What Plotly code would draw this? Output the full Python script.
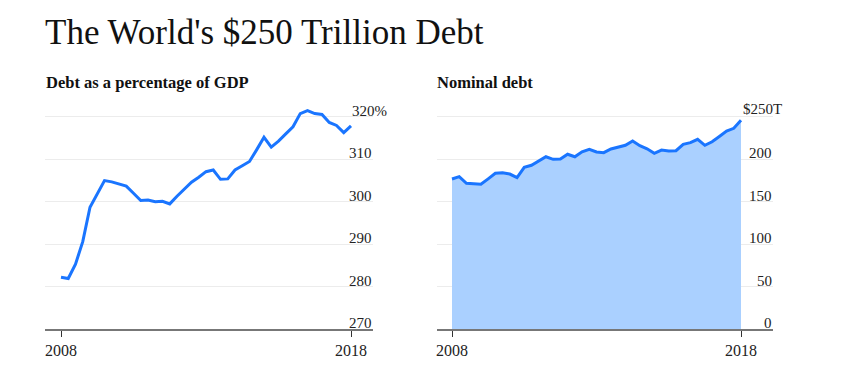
import plotly.graph_objects as go

W, H = 849, 384
OFF = 8  # page body margin offset

# Quarterly data, Q1 2008 .. Q1 2018
quarters = [2008 + k / 4 for k in range(41)]
debt_pct_gdp = [282.2, 281.9, 285.3, 290.6, 298.7, 301.8, 305.0, 304.7, 304.2, 303.7,
                302.0, 300.3, 300.4, 300.0, 300.1, 299.5, 301.3, 303.0, 304.6, 305.8,
                307.1, 307.5, 305.3, 305.4, 307.5, 308.5, 309.5, 312.3, 315.2, 312.9,
                314.3, 316.0, 317.7, 320.8, 321.5, 320.8, 320.6, 318.7, 318.0, 316.3,
                317.9]
nominal_debt = [176.9, 179.6, 171.8, 171.2, 170.6, 177.0, 183.6, 184.3, 182.7, 178.4,
                190.6, 193.0, 198.0, 203.1, 200.1, 200.4, 206.0, 203.1, 209.0, 211.9,
                208.7, 207.9, 212.2, 214.6, 216.6, 221.7, 216.1, 212.5, 207.2, 211.0,
                209.9, 210.2, 217.8, 219.7, 223.7, 216.6, 220.8, 227.0, 233.4, 236.6,
                246.0]

left_ticks = [270, 280, 290, 300, 310, 320]
left_tick_text = ["270", "280", "290", "300", "310", "320%"]
right_ticks = [0, 50, 100, 150, 200, 250]
right_tick_text = ["0", "50", "100", "150", "200", "$250T"]
x_ticks = [2008, 2018]
x_tick_text = ["2008", "2018"]

title = "The World's $250 Trillion Debt"
sub_left = "Debt as a percentage of GDP"
sub_right = "Nominal debt"

FONT = "Liberation Serif"
LINE = "#1a75ff"
FILL = "#aad0ff"

def px(x):
    return (x - OFF) / W

def py(y):
    return 1 - (y - OFF) / H

fig = go.Figure()
fig.add_trace(go.Scatter(x=quarters, y=debt_pct_gdp, mode="lines",
                         line=dict(color=LINE, width=3), xaxis="x", yaxis="y",
                         hoverinfo="x+y"))
fig.add_trace(go.Scatter(x=quarters, y=nominal_debt, mode="lines", fill="tozeroy",
                         fillcolor=FILL, line=dict(color=LINE, width=3),
                         xaxis="x2", yaxis="y2", hoverinfo="x+y"))

ybot, ytop = py(329), py(100)
common_x = dict(tickmode="array", tickvals=x_ticks, ticktext=x_tick_text,
                ticks="outside", ticklen=6, tickcolor="#333", tickwidth=1,
                showline=True, linecolor="#777", linewidth=2, showgrid=False,
                zeroline=False, tickfont=dict(family=FONT, size=16, color="#222"))
common_y = dict(showticklabels=False, showgrid=True, gridcolor="#ececec",
                gridwidth=1, zeroline=False, showline=False, tickmode="array")

fig.update_layout(
    width=W, height=H, margin=dict(l=0, r=0, t=0, b=0),
    paper_bgcolor="white", plot_bgcolor="white", showlegend=False,
    xaxis=dict(domain=[px(45), px(373)], range=[2008 - 16 / 29, 2018 + 22 / 29],
               anchor="y", **common_x),
    yaxis=dict(domain=[ybot, ytop], range=[270, 324], tickvals=left_ticks[1:],
               anchor="x", **common_y),
    xaxis2=dict(domain=[px(437), px(773)], range=[2008 - 15 / 28.9, 2018 + 32 / 28.9],
                anchor="y2", **common_x),
    yaxis2=dict(domain=[ybot, ytop], range=[0, 270], tickvals=right_ticks[1:],
                anchor="x2", **common_y),
)

ann = []
ann.append(dict(text=title, x=px(43), y=py(33), xref="paper", yref="paper",
                xanchor="left", yanchor="middle", showarrow=False,
                font=dict(family=FONT, size=35, color="#111")))
ann.append(dict(text="<b>%s</b>" % sub_left, x=px(44), y=py(82), xref="paper", yref="paper",
                xanchor="left", yanchor="middle", showarrow=False,
                font=dict(family=FONT, size=16.5, color="#111")))
ann.append(dict(text="<b>%s</b>" % sub_right, x=px(435), y=py(82), xref="paper", yref="paper",
                xanchor="left", yanchor="middle", showarrow=False,
                font=dict(family=FONT, size=16.5, color="#111")))

for v, t in zip(left_ticks, left_tick_text):
    if t.endswith("%"):
        ann.append(dict(text=t, x=px(350), xanchor="left", y=v, yref="y", xref="paper",
                        yanchor="middle", yshift=6, showarrow=False,
                        font=dict(family=FONT, size=15, color="#222")))
    else:
        ann.append(dict(text=t, x=px(374), xanchor="right", y=v, yref="y", xref="paper",
                        yanchor="middle", yshift=6, showarrow=False,
                        font=dict(family=FONT, size=15, color="#222")))
for v, t in zip(right_ticks, right_tick_text):
    if t.startswith("$"):
        ann.append(dict(text=t, x=px(741), xanchor="left", y=v, yref="y2", xref="paper",
                        yanchor="middle", yshift=8, showarrow=False,
                        font=dict(family=FONT, size=15, color="#222")))
    else:
        ann.append(dict(text=t, x=px(774), xanchor="right", y=v, yref="y2", xref="paper",
                        yanchor="middle", yshift=6, showarrow=False,
                        font=dict(family=FONT, size=15, color="#222")))

fig.update_layout(annotations=ann)
fig.write_html("out.html")
